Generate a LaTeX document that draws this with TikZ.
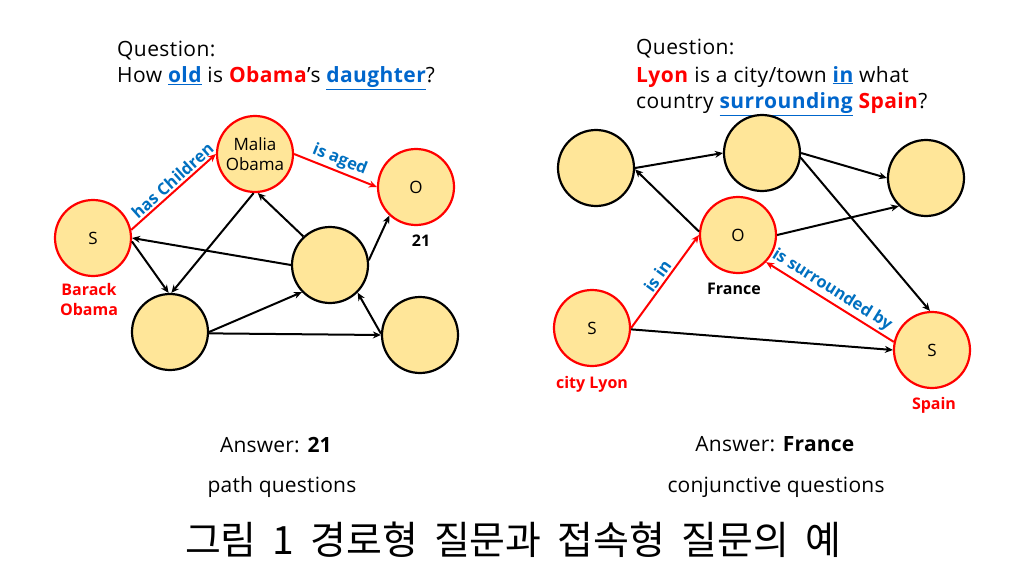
\documentclass[tikz,border=0pt]{standalone}
\usepackage{fontspec}
\setmainfont{Open Sans}
\newfontfamily\kr{Noto Sans CJK KR}
\usetikzlibrary{arrows.meta}
\definecolor{nodefill}{RGB}{255,230,153}
\definecolor{qblue}{RGB}{0,102,204}
\definecolor{lblue}{RGB}{0,112,192}
\definecolor{qred}{RGB}{255,0,0}
\newcommand{\ul}[1]{\underline{#1}}
\begin{document}
\begin{tikzpicture}[x=1pt,y=-1pt,
  ent/.style={circle,draw=black,fill=nodefill,line width=2.2pt,minimum size=76pt,inner sep=0pt,font=\fontsize{17}{19}\selectfont},
  rent/.style={ent,draw=qred},
  edge/.style={line width=2pt,draw=black,-{Stealth[length=8pt,width=7pt]}},
  redge/.style={edge,draw=qred},
  lab/.style={font=\bfseries\fontsize{16.5}{19}\selectfont,text=lblue,sloped,above,inner sep=2pt},
  qtext/.style={font=\fontsize{21}{24}\selectfont\addfontfeature{LetterSpace=2},anchor=base west,inner sep=0pt},
  atext/.style={font=\fontsize{21}{24}\selectfont\addfontfeature{LetterSpace=1},anchor=base,inner sep=0pt},
  elab/.style={font=\bfseries\fontsize{16}{20}\selectfont,align=center,inner sep=0pt},
]
\useasboundingbox[fill=white] (0,0) rectangle (1026,578);

% ---------- left question ----------
\node[qtext] (q1a) at (117,57) {Question:};
\node[qtext] (q1b) at (117,83) {How \textcolor{qblue}{\textbf{\ul{old}}} is \textcolor{qred}{\textbf{Obama}}’s \textcolor{qblue}{\textbf{\ul{daughter}}}?};

% ---------- left graph ----------
\node[rent] (s1) at (93,238) {S};
\node[rent,font=\fontsize{17}{20}\selectfont,align=center] (m) at (255,154) {Malia\\Obama};
\node[rent] (o1) at (416,187) {O};
\node[ent] (mid) at (330,265) {};
\node[ent] (bl) at (170,332) {};
\node[ent] (br) at (420,335) {};

\draw[redge] (s1.12) -- node[lab,pos=0.56] {has Children} (m.180);
\draw[redge] (m.east) -- node[lab] {is aged} (o1.west);
\draw[edge] (mid.west) -- (s1.east);
\draw[edge] (s1.-5) -- (bl.92);
\draw[edge] (m.-92) -- (bl.88);
\draw[edge] (mid.133) -- (m.-86);
\draw[edge] (mid.7) -- (o1.-133);
\draw[edge] (bl.0) -- (mid.-136);
\draw[edge] (bl.-2) -- (br.west);
\draw[edge] (br.178) -- (mid.-45);

\node[elab] (n21) at (421,241) {21};
\node[elab,text=qred] (barack) at (89,299) {Barack\\Obama};

\node[atext] (ans1) at (276,452) {Answer: \textbf{21}};
\node[atext] (pq) at (282,492) {path questions};

% ---------- right question ----------
\node[qtext] (q2a) at (636,55) {Question:};
\node[qtext] (q2b) at (636,82) {\textcolor{qred}{\textbf{Lyon}} is a city/town \textcolor{qblue}{\textbf{\ul{in}}} what};
\node[qtext] (q2c) at (636,109) {country \textcolor{qblue}{\textbf{\ul{surrounding}}} \textcolor{qred}{\textbf{Spain}}?};

% ---------- right graph ----------
\node[ent] (tl) at (596,168) {};
\node[ent] (tm) at (762,153) {};
\node[ent] (tr) at (926,178) {};
\node[rent] (fr) at (738,235) {O};
\node[rent] (ly) at (592,328) {S};
\node[rent] (sp) at (932,350) {S};

\draw[edge] (tl.east) -- (tm.west);
\draw[edge] (fr.175) -- (tl.-2);
\draw[edge] (tm.east) -- (tr.west);
\draw[edge] (tm.-7) -- (sp.93);
\draw[edge] (fr.east) -- (tr.-134);
\draw[redge] (ly.east) -- node[lab] {is in} (fr.west);
\draw[edge] (ly.-2) -- (sp.west);
\draw[redge] (sp.168) -- node[lab,pos=0.53] {is surrounded by} (fr.-44);

\node[elab] (france) at (734,289) {France};
\node[elab,text=qred] (city) at (592,384) {city Lyon};
\node[elab,text=qred] (spain) at (934,405) {Spain};

\node[atext] (ans2) at (775,451) {Answer: \textbf{France}};
\node[atext] (cq) at (776,492) {conjunctive questions};

% ---------- caption ----------
\node[font=\kr\fontsize{39}{42}\selectfont,inner sep=0pt] (cap) at (513,540) {그림\hspace{16pt}1\hspace{16pt}경로형\hspace{16pt}질문과\hspace{16pt}접속형\hspace{16pt}질문의\hspace{16pt}예};
\end{tikzpicture}
\end{document}
